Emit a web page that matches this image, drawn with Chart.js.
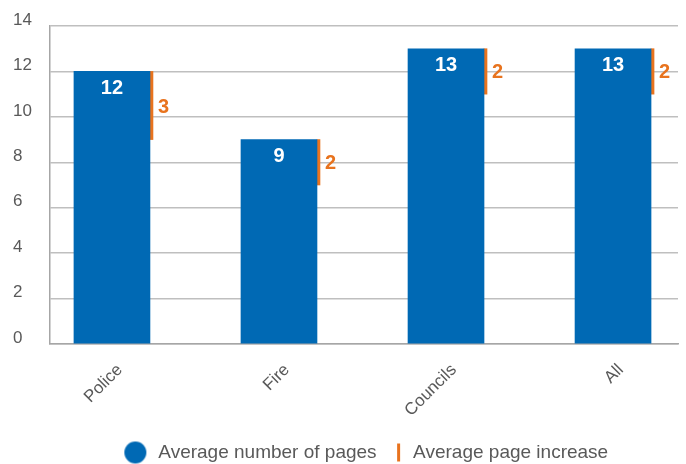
<!DOCTYPE html>
<html>
<head>
<meta charset="utf-8">
<title>Average number of pages</title>
<script src="https://cdn.jsdelivr.net/npm/chart.js@4.4.1/dist/chart.umd.min.js"></script>
<style>
  html, body { margin: 0; padding: 0; background: #fff; }
  #wrap { width: 686px; height: 464px; }
</style>
</head>
<body>
<div id="wrap"><canvas id="pagesChart"></canvas></div>
<script>
// --- data ---
const categories = ['Police', 'Fire', 'Councils', 'All'];
const avgPages = [12, 9, 13, 13];
const avgIncrease = [3, 2, 2, 2];
const yTicks = [0, 2, 4, 6, 8, 10, 12, 14];
const seriesNames = ['Average number of pages', 'Average page increase'];

const BLUE = '#0069B4';
const ORANGE = '#E8731E';
const TEXT = '#595959';
const FONT = "'Liberation Sans', Arial, sans-serif";

// x axis runs in "category" units: bar centres on the integers, 1 unit = 167px
const X_MIN = -0.371;
const X_MAX = 3.389;
const LINE_SHIFT = 0.2365;   // orange line hugs the right edge of the bar
const LABEL_SHIFT = 0.047;

Chart.defaults.font.family = FONT;
Chart.defaults.color = TEXT;

// legend markers (drawn as small canvases so the gap to the text can be set)
function legendIcon(draw) {
    const c = document.createElement('canvas');
    c.width = 32;
    c.height = 24;
    draw(c.getContext('2d'));
    return c;
}
const dotIcon = legendIcon(ctx => {
    ctx.fillStyle = BLUE;
    ctx.beginPath();
    ctx.arc(12, 12, 11, 0, Math.PI * 2);
    ctx.fill();
});
const lineIcon = legendIcon(ctx => {
    ctx.fillStyle = ORANGE;
    ctx.fillRect(19, 3, 3, 18);
});

// numbers on the bars and next to the orange lines
const valueLabels = {
    id: 'valueLabels',
    afterDatasetsDraw(chart) {
        const ctx = chart.ctx;
        const bars = chart.getDatasetMeta(0).data;
        const lines = chart.getDatasetMeta(1).data;
        ctx.save();
        ctx.font = `bold 20px ${FONT}`;
        ctx.textBaseline = 'middle';
        bars.forEach((bar, i) => {
            ctx.fillStyle = '#ffffff';
            ctx.textAlign = 'center';
            ctx.fillText(String(avgPages[i]), bar.x, bar.y + 17);
        });
        lines.forEach((line, i) => {
            ctx.fillStyle = ORANGE;
            ctx.textAlign = 'left';
            ctx.fillText(String(avgIncrease[i]), line.x + 6.5, (line.y + line.base) / 2 + 1.5);
        });
        ctx.restore();
    }
};

// the legend sits a little right of the plot centre in the original
const nudgeLegend = {
    id: 'nudgeLegend',
    afterLayout(chart) {
        chart.legend.left += 5;
        chart.legend.right += 5;
    }
};

new Chart(document.getElementById('pagesChart'), {
    type: 'bar',
    data: {
        datasets: [
            {
                label: seriesNames[0],
                data: avgPages.map((v, i) => ({ x: i, y: v })),
                backgroundColor: BLUE,
                barThickness: 76,
                grouped: false,
                pointStyle: dotIcon
            },
            {
                label: seriesNames[1],
                data: avgIncrease.map((d, i) => ({ x: i + LINE_SHIFT, y: [avgPages[i] - d, avgPages[i]] })),
                backgroundColor: ORANGE,
                barThickness: 3,
                grouped: false,
                pointStyle: lineIcon
            }
        ]
    },
    options: {
        responsive: true,
        maintainAspectRatio: false,
        animation: false,
        layout: { padding: { top: 26, left: 13, right: 8, bottom: -8 } },
        scales: {
            x: {
                type: 'linear',
                offset: false,
                min: X_MIN,
                max: X_MAX,
                afterBuildTicks: s => { s.ticks = categories.map((_, i) => ({ value: i + LABEL_SHIFT })); },
                afterFit: s => { s.height = 91; },
                ticks: {
                    callback: (v, i) => categories[i],
                    autoSkip: false,
                    minRotation: 45,
                    maxRotation: 45,
                    padding: 8,
                    color: TEXT,
                    font: { size: 17 }
                },
                grid: { display: false },
                border: { color: '#A6A6A6', width: 1.5 }
            },
            y: {
                min: 0,
                max: 14,
                afterBuildTicks: s => { s.ticks = yTicks.map(v => ({ value: v })); },
                afterFit: s => { s.width = 37; },
                ticks: {
                    crossAlign: 'far',
                    labelOffset: -6,
                    color: TEXT,
                    font: { size: 17 }
                },
                grid: { color: '#BFBFBF', lineWidth: 1.5, drawTicks: false },
                border: { color: '#A6A6A6', width: 1.5 }
            }
        },
        plugins: {
            legend: {
                position: 'bottom',
                fullSize: false,
                labels: {
                    usePointStyle: true,
                    boxWidth: 19,
                    boxHeight: 19,
                    padding: 8,
                    color: TEXT,
                    font: { size: 19 }
                }
            },
            tooltip: { enabled: false }
        }
    },
    plugins: [valueLabels, nudgeLegend]
});
</script>
</body>
</html>
